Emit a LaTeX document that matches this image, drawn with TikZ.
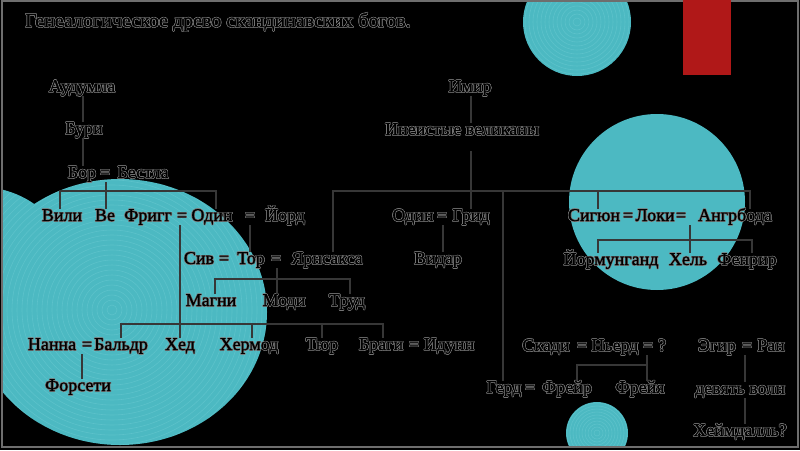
\documentclass[tikz,border=0pt]{standalone}
\usepackage{fontspec}
\setmainfont{Liberation Serif}
\newfontfamily\halofont[FakeBold=1]{Liberation Serif}
\usepackage[copies]{contour}
\contourlength{0.6pt}
\contournumber{8}
\definecolor{cyanc}{RGB}{76,185,194}
\definecolor{ringc}{RGB}{130,215,222}
\definecolor{redc}{RGB}{176,24,24}
\definecolor{framec}{RGB}{110,110,110}
\definecolor{linec}{RGB}{55,55,55}
\definecolor{haloc}{RGB}{125,125,125}
\newcommand{\nm}[1]{{\halofont\contour{haloc}{#1}}}
\tikzset{
  lbl/.style={anchor=base, inner sep=0pt, text height=12pt, text depth=4pt,
    font=\fontsize{18}{20}\selectfont, text=black},
  ttl/.style={anchor=base west, inner sep=0pt, font=\fontsize{20}{23}\selectfont, text=black},
  conn/.style={draw=linec, line width=1.6pt},
  ring/.style={draw=ringc, line width=0.6pt, opacity=0.3}
}
\begin{document}
\begin{tikzpicture}[x=1pt,y=-1pt]
\useasboundingbox (0,0) rectangle (800,450);
\fill[black] (0,0) rectangle (800,450);
% decorative circles
\begin{scope}
  \clip (2,1) rectangle (798,447);
  \fill[cyanc] (120,312) ellipse [x radius=147, y radius=133];
  \fill[cyanc] (-20,282) circle [radius=95];
  \begin{scope}
    \clip (120,312) ellipse [x radius=147, y radius=133] (-20,282) circle [radius=95];
    \foreach \r in {5,10,...,200} \draw[ring] (112,310) circle [radius=\r];
  \end{scope}
  \fill[cyanc] (577,22) circle [radius=54];
  \begin{scope}
    \clip (577,22) circle [radius=54];
    \foreach \r in {4,8,...,56} \draw[ring] (577,22) circle [radius=\r];
  \end{scope}
  \fill[cyanc] (657,202) circle [radius=88];
  \fill[cyanc] (597,433) circle [radius=31];
  \begin{scope}
    \clip (597,433) circle [radius=31];
    \foreach \r in {3,6,...,33} \draw[ring] (597,433) circle [radius=\r];
  \end{scope}
\end{scope}
\draw[framec, line width=1.5pt] (2,1) rectangle (798,447);
\fill[redc] (683,0) rectangle (731,75);

% title
\node[ttl] (title) at (25,27) {\nm{Генеалогическое древо скандинавских богов.}};

% left tree
\node[lbl] (aud) at (82,92) {\nm{Аудумла}};
\node[lbl] (buri) at (84,134) {\nm{Бури}};
\node[lbl] (bor) at (82,178) {\nm{Бор}};
\node[lbl] (eqbor) at (105,178) {\nm{=}};
\node[lbl] (bestla) at (143,178) {\nm{Бестла}};

\node[lbl] (vili) at (62,221) {\nm{Вили}};
\node[lbl] (ve) at (105,221) {\nm{Ве}};
\node[lbl] (frigg) at (148,221) {\nm{Фригг}};
\node[lbl] (eqfo) at (182,221) {\nm{=}};
\node[lbl] (odin) at (212,221) {\nm{Один}};
\node[lbl] (eqoj) at (250,221) {\nm{=}};
\node[lbl] (jord) at (285,221) {\nm{Йорд}};

\node[lbl] (siv) at (199,264) {\nm{Сив}};
\node[lbl] (eqst) at (224,264) {\nm{=}};
\node[lbl] (tor) at (251,264) {\nm{Тор}};
\node[lbl] (eqtj) at (276,264) {\nm{=}};
\node[lbl] (jarn) at (327,264) {\nm{Ярнсакса}};

\node[lbl] (magni) at (211,306) {\nm{Магни}};
\node[lbl] (modi) at (284,306) {\nm{Моди}};
\node[lbl] (trud) at (347,306) {\nm{Труд}};

\node[lbl] (nanna) at (52,350) {\nm{Нанна}};
\node[lbl] (eqnb) at (87,350) {\nm{=}};
\node[lbl] (baldr) at (121,350) {\nm{Бальдр}};
\node[lbl] (hed) at (180,350) {\nm{Хед}};
\node[lbl] (hermod) at (249,350) {\nm{Хермод}};
\node[lbl] (tyr) at (322,350) {\nm{Тюр}};
\node[lbl] (bragi) at (381,350) {\nm{Браги}};
\node[lbl] (eqbi) at (414,350) {\nm{=}};
\node[lbl] (idunn) at (449,350) {\nm{Идунн}};
\node[lbl] (forseti) at (78,391) {\nm{Форсети}};

% middle
\node[lbl] (ymir) at (470,92) {\nm{Имир}};
\node[lbl] (giants) at (462,135) {\nm{Инеистые великаны}};
\node[lbl] (odin2) at (413,221) {\nm{Один}};
\node[lbl] (eqog) at (442,221) {\nm{=}};
\node[lbl] (grid) at (471,221) {\nm{Грид}};
\node[lbl] (vidar) at (438,264) {\nm{Видар}};

% right
\node[lbl] (sigyn) at (594,221) {\nm{Сигюн}};
\node[lbl] (eqsl) at (628,221) {\nm{=}};
\node[lbl] (loki) at (655,221) {\nm{Локи}};
\node[lbl] (eqla) at (681,221) {\nm{=}};
\node[lbl] (angr) at (735,221) {\nm{Ангрбода}};
\node[lbl] (jorm) at (611,265) {\nm{Йормунганд}};
\node[lbl] (hel) at (688,265) {\nm{Хель}};
\node[lbl] (fenrir) at (747,265) {\nm{Фенрир}};

\node[lbl] (skadi) at (546,351) {\nm{Скади}};
\node[lbl] (eqsn) at (582,351) {\nm{=}};
\node[lbl] (njord) at (615,351) {\nm{Ньерд}};
\node[lbl] (eqnq) at (648,351) {\nm{=}};
\node[lbl] (q) at (662,351) {\nm{?}};
\node[lbl] (gerd) at (504,393) {\nm{Герд}};
\node[lbl] (eqgf) at (530,393) {\nm{=}};
\node[lbl] (freyr) at (567,393) {\nm{Фрейр}};
\node[lbl] (freyja) at (640,393) {\nm{Фрейя}};

\node[lbl] (aegir) at (717,351) {\nm{Эгир}};
\node[lbl] (eqar) at (747,351) {\nm{=}};
\node[lbl] (ran) at (771,351) {\nm{Ран}};
\node[lbl] (waves) at (740,394) {\nm{девять волн}};
\node[lbl] (heim) at (740,436) {\nm{Хеймдалль?}};

% bracket levels
\coordinate (yA) at (0,191);
\coordinate (yB) at (0,324);
\coordinate (yC) at (0,279);
\coordinate (yD) at (0,240);
\coordinate (yE) at (0,365);

% connectors
\draw[conn] ([xshift=1pt]aud.south) -- ([xshift=1pt]aud.south |- buri.north);
\draw[conn] ([xshift=1pt]bor.north |- buri.south) -- ([xshift=1pt]bor.north);
\draw[conn] ([xshift=1pt]eqbor.south) -- ([xshift=1pt]eqbor.south |- ve.north);
\draw[conn] ([xshift=-2pt]vili.north) |- ([xshift=4pt]odin.north |- yA) -- ([xshift=4pt]odin.north);
\draw[conn] (hed.north |- eqfo.south) -- (hed.north);
\draw[conn] (baldr.north) |- ([xshift=2pt]bragi.north |- yB) -- ([xshift=2pt]bragi.north);
\draw[conn] ([xshift=3pt]hermod.north |- yB) -- ([xshift=3pt]hermod.north);
\draw[conn] (tyr.north |- yB) -- (tyr.north);
\draw[conn] (eqoj.south) -- (eqoj.south |- tor.north);
\draw[conn] ([xshift=1pt]eqtj.south) -- ([xshift=1pt]eqtj.south |- modi.north);
\draw[conn] ([xshift=4pt]magni.north) |- ([xshift=3pt]trud.north |- yC) -- ([xshift=3pt]trud.north);
\draw[conn] ([xshift=-5pt]eqnb.south) -- ([xshift=-5pt]eqnb.south |- forseti.north);

\draw[conn] ([xshift=1pt]ymir.south) -- ([xshift=1pt]ymir.south |- giants.north);
\draw[conn, shorten <=12pt] (grid.north |- giants.south) -- (grid.north);
\draw[conn] ([xshift=6pt]jarn.north) |- ([xshift=15pt]angr.north |- yA) -- ([xshift=15pt]angr.north);
\draw[conn] ([xshift=-1pt]gerd.north |- yA) -- ([xshift=-1pt]gerd.north);
\draw[conn] ([xshift=4pt]sigyn.north |- yA) -- ([xshift=4pt]sigyn.north);
\draw[conn] ([xshift=1pt]eqog.south) -- ([xshift=1pt]eqog.south |- vidar.north);

\draw[conn] ([xshift=2pt]hel.north |- eqla.south) -- ([xshift=2pt]hel.north);
\draw[conn] ([xshift=-13pt]jorm.north) |- ([xshift=5pt]fenrir.north |- yD) -- ([xshift=5pt]fenrir.north);
\draw[conn] ([xshift=-1pt]eqnq.south) -- ([xshift=-1pt]eqnq.south |- freyja.north);
\draw[conn] ([xshift=10pt]freyr.north) |- ([xshift=-1pt]eqnq.south |- yE);
\draw[conn] ([xshift=-2pt]eqar.south) -- ([xshift=-2pt]eqar.south |- waves.north);
\draw[conn] ([xshift=5pt]waves.south) -- ([xshift=5pt]waves.south |- heim.north);
\end{tikzpicture}
\end{document}
